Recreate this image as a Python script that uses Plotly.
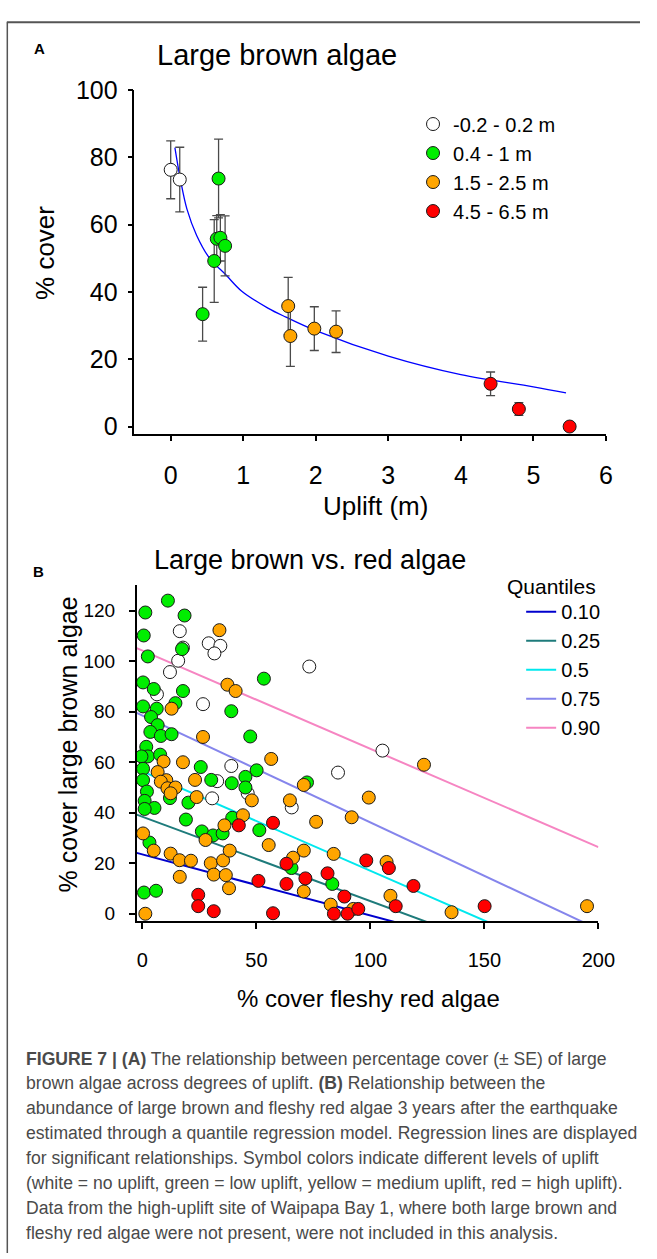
import plotly.graph_objects as go

W, H = 657, 1259
FONT = "Liberation Sans, Arial, sans-serif"

# ---------------- Panel A data (uplift vs % cover) ----------------
a_labels = ["-0.2 - 0.2 m", "0.4 - 1 m", "1.5 - 2.5 m", "4.5 - 6.5 m"]
a_colors = ["#FFFFFF", "#00EE00", "#FFA500", "#FF0000"]

a_white_x = [0.0, 0.125]
a_white_y = [76.3, 73.4]
a_white_se = [8.6, 9.6]

a_green_x = [0.44, 0.60, 0.635, 0.685, 0.66, 0.75]
a_green_y = [33.4, 49.2, 55.8, 56.1, 73.7, 53.7]
a_green_se = [8.0, 12.3, 6.9, 6.9, 11.7, 8.9]

a_orange_x = [1.62, 1.65, 1.98, 2.28]
a_orange_y = [35.8, 26.9, 29.1, 28.2]
a_orange_se = [8.5, 9.0, 6.5, 6.2]

a_red_x = [4.41, 4.80, 5.50]
a_red_y = [12.7, 5.2, 0.0]
a_red_se = [3.5, 1.9, 0.0]

# fitted curve
a_fit_x = [0.058, 0.134, 0.224, 0.358, 0.537, 0.76, 0.98, 1.34, 1.59, 2.0, 3.0, 4.0, 5.0, 5.45]
a_fit_y = [82.9, 73.4, 64.6, 56.8, 50.0, 45.1, 40.2, 35.2, 32.5, 28.5, 20.9, 15.4, 11.8, 10.0]

a_xticks = [0, 1, 2, 3, 4, 5, 6]
a_yticks = [0, 20, 40, 60, 80, 100]

# ---------------- Panel B data (red vs brown algae) ----------------
b_white_x = [16.4, 29.1, 34.2, 31.6, 17.8, 15.7, 12.1, 6.4, 26.6, 73.2, 105.3, 39.0, 85.8, 32.8, 46.2, 30.6, 65.5]
b_white_y = [111.9, 107.1, 106.1, 103.1, 105.4, 100.2, 95.7, 86.9, 83.0, 97.9, 64.6, 58.5, 55.9, 52.5, 47.7, 45.7, 42.1]

b_green_x = [11.2, 1.3, 18.5, 0.6, 17.4, 2.4, 0.3, 5.0, 17.8, 14.5, 0.3, 6.3, 3.8, 6.7, 3.5, 8.1, 12.8,
             1.7, 2.4, -0.4, 7.8, 25.6, 0.3, 30.2, 39.2, 0.3, 12.1, 20.2, 2.0, 1.0, 5.3, 1.0, 19.1, 26.1,
             31.0, 35.2, 3.1, 0.7, 6.0, 53.3, 39.0, 47.3, 50.1, 72.2, 45.2, 45.2, 39.4, 51.3, 65.4, 83.3]
b_green_y = [124.0, 119.3, 118.1, 110.2, 104.8, 101.9, 91.6, 89.0, 88.2, 83.4, 82.1, 81.2, 77.9, 74.7, 72.0, 70.4, 71.1,
             66.1, 62.3, 62.3, 63.0, 58.1, 57.4, 53.0, 51.7, 52.9, 45.8, 44.0, 48.4, 44.7, 41.9, 41.5, 37.3, 32.6,
             31.0, 31.8, 28.2, 8.4, 9.1, 93.1, 80.2, 70.2, 56.8, 52.0, 54.2, 50.0, 38.0, 33.1, 18.1, 11.8]

b_orange_x = [33.8, 37.3, 40.9, 12.8, 26.6, 9.3, 17.8, 56.5, 6.7, 10.5, 8.1, 23.1, 11.0, 14.5, 12.4, 23.8,
              0.3, 27.7, 36.0, 5.0, 12.4, 16.3, 21.3, 30.0, 35.4, 38.3, 16.4, 31.3, 36.6, 38.0, 1.3, 70.8,
              48.0, 64.7, 99.3, 91.8, 76.2, 44.1, 55.4, 70.8, 83.9, 66.1, 107.1, 108.8, 135.6, 195.0, 70.8,
              82.6, 92.5, 123.5]
b_orange_y = [112.3, 90.7, 88.2, 81.2, 70.0, 60.3, 60.0, 61.3, 56.1, 52.9, 52.3, 53.0, 49.7, 50.0, 47.7, 46.2,
              31.8, 29.2, 35.0, 25.0, 23.8, 21.2, 21.0, 20.0, 21.1, 25.0, 14.6, 15.5, 15.3, 10.1, 0.0, 51.0,
              44.9, 44.9, 46.0, 38.2, 36.4, 39.0, 27.2, 25.0, 23.7, 22.2, 20.5, 7.1, 0.6, 3.0, 8.8,
              3.6, 1.9, 59.0]

b_red_x = [57.3, 42.3, 63.2, 98.2, 108.1, 50.9, 63.2, 71.5, 81.2, 88.6, 84.0, 90.0, 94.7, 57.3, 31.3,
           24.5, 24.5, 118.9, 111.1, 150.1]
b_red_y = [36.0, 35.0, 19.8, 21.1, 18.1, 13.0, 11.8, 14.0, 16.0, 6.8, 0.0, 0.0, 1.9, 0.2, 1.0,
           7.5, 3.0, 11.0, 3.0, 3.0]

q_labels = ["0.10", "0.25", "0.5", "0.75", "0.90"]
q_intercepts = [23.5, 38.4, 56.4, 78.5, 104.2]
q_slopes = [-0.242, -0.334, -0.394, -0.4234, -0.389]
q_colors = ["#0000CD", "#1E7B7B", "#00E8EE", "#8585EC", "#F685C2"]

b_xrange = [-2.5, 200]
b_yrange = [-2.9, 130]
b_xticks = [0, 50, 100, 150, 200]
b_yticks = [0, 20, 40, 60, 80, 100, 120]

caption_lines = [
    "<b>FIGURE 7 | (A)</b> The relationship between percentage cover (± SE) of large",
    "brown algae across degrees of uplift. <b>(B)</b> Relationship between the",
    "abundance of large brown and fleshy red algae 3 years after the earthquake",
    "estimated through a quantile regression model. Regression lines are displayed",
    "for significant relationships. Symbol colors indicate different levels of uplift",
    "(white = no uplift, green = low uplift, yellow = medium uplift, red = high uplift).",
    "Data from the high-uplift site of Waipapa Bay 1, where both large brown and",
    "fleshy red algae were not present, were not included in this analysis.",
]


def px(x):
    return x / W


def py(y):
    return 1 - y / H


fig = go.Figure()

# ---- Panel A traces ----
fig.add_trace(go.Scatter(x=a_fit_x, y=a_fit_y, mode="lines",
                         line=dict(color="#0000FF", width=1.3, shape="spline", smoothing=1.0),
                         xaxis="x", yaxis="y", showlegend=False, hoverinfo="skip"))

a_sets = [(a_white_x, a_white_y, a_white_se), (a_green_x, a_green_y, a_green_se),
          (a_orange_x, a_orange_y, a_orange_se), (a_red_x, a_red_y, a_red_se)]
for (xs, ys, se), lab, col in zip(a_sets, a_labels, a_colors):
    fig.add_trace(go.Scatter(
        x=xs, y=ys, mode="markers", name=lab,
        marker=dict(size=13, color=col, line=dict(color="#1a1a1a", width=1)),
        error_y=dict(type="data", array=se, visible=True, color="#4a4a4a", thickness=1.3, width=4.5),
        xaxis="x", yaxis="y", legend="legend"))

# ---- Panel B traces ----
for lab, b0, b1, col in zip(q_labels, q_intercepts, q_slopes, q_colors):
    xs = [b_xrange[0], b_xrange[1]]
    ys = [b0 + b1 * v for v in xs]
    fig.add_trace(go.Scatter(x=xs, y=ys, mode="lines", name=lab, line=dict(color=col, width=2),
                             xaxis="x2", yaxis="y2", legend="legend2"))

b_sets = [(b_white_x, b_white_y, "#FFFFFF"), (b_green_x, b_green_y, "#00EE00"),
          (b_orange_x, b_orange_y, "#FFA500"), (b_red_x, b_red_y, "#FF0000")]
for xs, ys, col in b_sets:
    fig.add_trace(go.Scatter(x=xs, y=ys, mode="markers",
                             marker=dict(size=13, color=col, line=dict(color="#1a1a1a", width=1)),
                             xaxis="x2", yaxis="y2", showlegend=False))

axis_common = dict(showline=True, linecolor="black", linewidth=1.5, ticks="outside", tickcolor="black",
                   tickwidth=1.5, showgrid=False, zeroline=False, fixedrange=True)


def label(text, x, y, size, angle=0, xanchor="center", color="black"):
    return dict(text=text, x=px(x), y=py(y), xref="paper", yref="paper", showarrow=False,
                xanchor=xanchor, yanchor="middle", textangle=angle,
                font=dict(family=FONT, size=size, color=color))


annotations = [
    label("<b>A</b>", 41, 35, 15),
    label("Large brown algae", 284, 42, 29),
    label("% cover", 46, 243, 26, angle=-90),
    label("Uplift (m)", 385, 500, 26),
    label("<b>B</b>", 40, 566, 15),
    label("Large brown vs. red algae", 318, 555, 27),
    label("% cover large brown algae", 70, 742, 25, angle=-90),
    label("% cover fleshy red algae", 378, 1000, 24),
    label("Quantiles", 518, 582, 21, xanchor="left"),
]

cap_y0, cap_step = 1061.5, 25.25
for i, line in enumerate(caption_lines):
    annotations.append(label(line, 25, cap_y0 + i * cap_step, 17.6, xanchor="left", color="#4a4a4a"))

shapes = [
    dict(type="line", xref="paper", yref="paper", x0=px(7), x1=1, y0=py(8.5), y1=py(8.5),
         line=dict(color="#555555", width=2)),
    dict(type="line", xref="paper", yref="paper", x0=px(7.5), x1=px(7.5), y0=py(8.5), y1=0,
         line=dict(color="#555555", width=1.5)),
]

fig.update_layout(
    width=W, height=H, margin=dict(l=0, r=0, t=0, b=0),
    paper_bgcolor="white", plot_bgcolor="white",
    font=dict(family=FONT, color="black"),
    xaxis=dict(domain=[px(138), px(622)], range=[-0.5, 6], tickvals=a_xticks, anchor="y", ticklen=5,
               tickfont=dict(size=25), ticklabelstandoff=13, **axis_common),
    yaxis=dict(domain=[py(426.7), py(77.3)], range=[-2.2, 100], tickvals=a_yticks, anchor="x", ticklen=5,
               tickfont=dict(size=25), ticklabelstandoff=5, **axis_common),
    xaxis2=dict(domain=[px(140.3), px(614.3)], range=b_xrange, tickvals=b_xticks, anchor="y2", ticklen=6,
                tickfont=dict(size=20), ticklabelstandoff=14, **axis_common),
    yaxis2=dict(domain=[py(921.7), py(580.7)], range=b_yrange, tickvals=b_yticks, anchor="x2", ticklen=6,
                tickfont=dict(size=19), ticklabelstandoff=10, **axis_common),
    legend=dict(x=px(424), y=py(92), xanchor="left", yanchor="top", bgcolor="rgba(0,0,0,0)",
                font=dict(family=FONT, size=20), tracegroupgap=0, itemclick=False),
    legend2=dict(x=px(535), y=py(587.5), xanchor="left", yanchor="top", bgcolor="rgba(0,0,0,0)",
                 font=dict(family=FONT, size=20), tracegroupgap=0, itemclick=False),
    annotations=annotations,
    shapes=shapes,
)

fig.write_html("out.html")
